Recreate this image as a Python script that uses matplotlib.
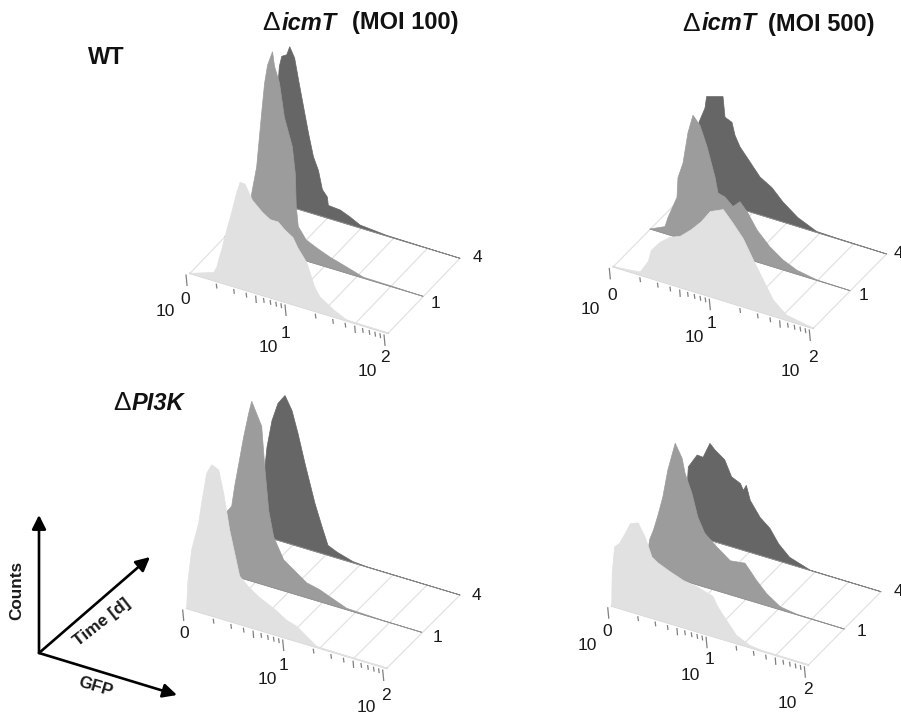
import numpy as np
import matplotlib
matplotlib.use("Agg")
import matplotlib.pyplot as plt
from matplotlib.transforms import Affine2D

plt.rcParams['font.family'] = ['Liberation Sans', 'DejaVu Sans']

# GFP in log10 decades, counts in arbitrary units
a0_gfp = [0, .24, .27, .30, .32, .38, .42, .47, .505, .555, .63, .73, .81, .89, .96, 1.04, 1.09, 1.18, 1.26, 1.31, 1.45, 1.58, 2]
a0_cnt = [0, 8, 14, 26, 33, 58, 73, 94, 106, 106, 92, 83, 78, 78, 72, 67, 58, 46, 24, 16, 7, 1, 0]
a1_gfp = [0, .15, .24, .27, .32, .37, .40, .43, .48, .50, .55, .60, .68, .71, .72, .74, .82, .93, 1.06, 1.20, 1.40, 1.67, 2]
a1_cnt = [0, 3, 30, 51, 79, 134, 165, 184, 199, 185, 170, 137, 110, 84, 51, 32, 21, 16, 11, 7, 1, .7, 0]
a4_gfp = [0, .08, .13, .175, .2, .25, .28, .33, .37, .42, .47, .52, .57, .61, .66, .67, .79, .89, .99, 1.26, 1.66, 2]
a4_cnt = [0, 2, 69, 137, 148, 151, 160, 150, 129, 104, 79, 57, 45, 27, 21, 13, 12, 8, 3, .7, .3, 0]

b0_gfp = [0, .27, .35, .38, .47, .57, .67, .78, .88, .97, 1.10, 1.20, 1.30, 1.40, 1.50, 1.60, 1.73, 1.90, 2]
b0_cnt = [0, 3, 16, 28, 39, 47, 51, 61, 72, 85, 91, 80, 68, 50, 33, 16, 5, 2, 0]
b1_gfp = [0, .15, .18, .27, .28, .33, .38, .43, .5, .57, .65, .68, .75, .83, .9, .98, 1.07, 1.2, 1.33, 1.47, 1.67, 2]
b1_cnt = [0, 7, 17, 40, 60, 76, 108, 127, 119, 100, 72, 57, 55, 48, 55, 46, 32, 19, 10, 4, .5, 0]
b4_gfp = [0, .08, .12, .124, .184, .2, .364, .384, .454, .484, .534, .634, .734, .854, .964, 1.114, 1.3, 1.5, 2]
b4_cnt = [0, 3, 56, 74, 90, 102, 107, 87, 84, 72, 62, 50, 38, 31, 20, 9, 1, .5, 0]

c0_gfp = [0, .01, .05, .12, .15, .2, .25, .32, .37, .43, .53, .62, .72, .87, 1, 1.1, 1.2, 1.3, 1.47, 2]
c0_cnt = [0, 25, 60, 89, 110, 141, 151, 148, 126, 91, 48, 40, 33, 26, 18, 15, 8, 1, .5, 0]
c1_gfp = [0, .02, .04, .05, .1, .13, .22, .27, .3, .35, .4, .43, .47, .52, .62, .72, .85, .98, 1.08, 1.25, 1.6, 2]
c1_cnt = [0, 36, 60, 62, 69, 90, 142, 167, 180, 169, 158, 119, 76, 51, 31, 24, 15, 12, 8, 1.5, .3, 0]
c4_gfp = [0, .03, .04, .05, .07, .12, .18, .25, .32, .38, .45, .55, .62, .68, .77, .93, 1.07, 2]
c4_cnt = [0, 2, 50, 70, 90, 118, 137, 147, 134, 113, 85, 48, 27, 10, 6, 1.3, .3, 0]

d0_gfp = [0, .005, .03, .08, .14, .19, .27, .34, .41, .47, .59, .73, .86, 1.03, 1.08, 1.17, 1.27, 1.41, 1.54, 2]
d0_cnt = [0, 33, 60, 65, 77, 88, 91, 79, 61, 57, 52, 47, 45, 40, 31, 20, 8, 2, .5, 0]
d1_gfp = [0, .01, .02, .06, .105, .155, .205, .28, .35, .38, .45, .51, .58, .7, .84, .99, 1.11, 1.21, 1.35, 1.52, 2]
d1_cnt = [0, 24, 31, 42, 58, 78, 106, 135, 122, 108, 90, 68, 54, 44, 34, 36, 22, 12, 3, .5, 0]
d4_gfp = [0, .02, .04, .13, .19, .26, .31, .41, .48, .57, .6, .63, .67, .77, .87, .96, 1.07, 1.28, 2]
d4_cnt = [0, 33, 67, 81.5, 81, 97, 92, 85, 70, 66, 60, 66, 52, 38, 30, 17, 7, .3, 0]

minor_tick_vals = [2, 3, 4, 5, 6, 7, 8, 9]
grid_decades = [0, .33, .66, 1, 1.33, 1.67, 2]

LIGHT = '#e1e1e1'
MID = '#9c9c9c'
DARK = '#666666'

fig = plt.figure(figsize=(9.01, 7.15), dpi=100)
ax = fig.add_axes([0, 0, 1, 1])
ax.set_xlim(0, 901)
ax.set_ylim(715, 0)
ax.axis('off')


# shear (gfp, counts) onto the page, shifted back along the time axis
def panel_transform(origin, gvec, shift):
    m = [[gvec[0], 0, origin[0] + shift[0]],
         [gvec[1], -1, origin[1] + shift[1]],
         [0, 0, 1]]
    return Affine2D(np.array(m)) + ax.transData


def draw_panel(origin, gvec, shift1, shift4, series):
    front = panel_transform(origin, gvec, (0, 0))

    # floor grid
    for g in grid_decades:
        x0 = origin[0] + gvec[0] * g
        y0 = origin[1] + gvec[1] * g
        ax.plot([x0, x0 + shift4[0]], [y0, y0 + shift4[1]], color='#e2e2e2', lw=0.9, zorder=1)
    ax.plot([0, 2], [0, 0], color='#d2d2d2', lw=1.2, zorder=1, transform=front)

    shifts = [shift4, shift1, (0, 0)]
    colors = [DARK, MID, LIGHT]
    for (gfp, cnt), shift, col, z in zip(series, shifts, colors, [2, 3, 4]):
        tr = panel_transform(origin, gvec, shift)
        ax.fill(gfp, cnt, facecolor=col, edgecolor=col, lw=0.5, zorder=z, transform=tr)
        if z < 4:
            ax.plot([0, 2], [0, 0], color='#909090', lw=0.6, zorder=z, transform=tr)

    # log ticks sit just below the front edge
    for decade in [0, 1]:
        for v in minor_tick_vals:
            g = decade + np.log10(v) - 0.035
            length = 6 if v == 5 else 3.5
            ax.plot([g, g + .005], [-3, -3 - length], color='#808080', lw=0.9, zorder=5, transform=front)
    for g in [0, 1, 2]:
        ax.plot([g - .04, g - .03], [-3, -13], color='#808080', lw=0.9, zorder=5, transform=front)


draw_panel((190, 273.3), (99, 30), (35, -37), (72, -75),
           [(a4_gfp, a4_cnt), (a1_gfp, a1_cnt), (a0_gfp, a0_cnt)])
draw_panel((613.3, 266.7), (100, 30.8), (36.7, -37.7), (73.3, -74.3),
           [(b4_gfp, b4_cnt), (b1_gfp, b1_cnt), (b0_gfp, b0_cnt)])
draw_panel((186.7, 608.3), (100, 30), (35, -36), (73.3, -73.3),
           [(c4_gfp, c4_cnt), (c1_gfp, c1_cnt), (c0_gfp, c0_cnt)])
draw_panel((611.7, 606), (98.3, 29.5), (36, -36), (72.7, -73.3),
           [(d4_gfp, d4_cnt), (d1_gfp, d1_cnt), (d0_gfp, d0_cnt)])


def label(x, y, s, size=12.5, **kw):
    ax.text(x, y, s, fontsize=size, ha='center', va='center', color='#1a1a1a', zorder=6, **kw)


# tick labels: "10" and its exponent are separate, as in the figure
tick_labels = [
    (165, 312, '10'), (185, 300, '0'), (268, 348, '10'), (286, 333, '1'), (367, 372, '10'), (385, 358, '2'),
    (477, 258, '4'), (435, 303, '1'),
    (590, 309, '10'), (612, 295, '0'), (694, 338, '10'), (712, 323, '1'), (790, 372, '10'), (813, 358, '2'),
    (898, 253, '4'), (863, 296, '1'),
    (184, 633, '0'), (267, 679, '10'), (283, 665, '1'), (366, 708, '10'), (386, 695, '2'),
    (476, 596, '4'), (438, 638, '1'),
    (587, 646, '10'), (607, 631, '0'), (690, 675, '10'), (709, 660, '1'), (787, 704, '10'), (808, 690, '2'),
    (898, 592, '4'), (862, 632, '1'),
]
for x, y, s in tick_labels:
    label(x, y, s)


def title(x, y, delta_w, part, part_w, rest=None):
    t = dict(fontsize=17, va='center', ha='left', color='#111111', zorder=6)
    ax.text(x, y, '\u0394', fontsize=19, va='center', ha='left', color='#111111', zorder=6)
    ax.text(x + delta_w, y, part, fontweight='bold', fontstyle='italic', **t)
    if rest:
        ax.text(x + part_w, y, rest, fontweight='bold', **t)


title(262, 23, 20, 'icmT', 90, '(MOI 100)')
title(682, 24, 20, 'icmT', 86, '(MOI 500)')
title(113, 403, 19, 'PI3K', 0)
ax.text(88, 57, 'WT', fontsize=17, fontweight='bold', va='center', ha='left', color='#111111')

# axis key
key_origin = (39, 653)
for end in [(39, 515), (150, 557), (177, 695)]:
    ax.annotate('', xy=end, xytext=key_origin,
                arrowprops=dict(arrowstyle='-|>', color='black', lw=1.9, mutation_scale=21, shrinkA=0, shrinkB=0))
label(17, 590, 'Counts', size=12.3, fontweight='bold', rotation=90)
label(102, 622, 'Time [d]', size=12.5, fontweight='bold', rotation=38, rotation_mode='anchor')
label(95, 687, 'GFP', size=12.3, fontweight='bold', rotation=-17, rotation_mode='anchor')

fig.savefig('out.png', dpi=100)
